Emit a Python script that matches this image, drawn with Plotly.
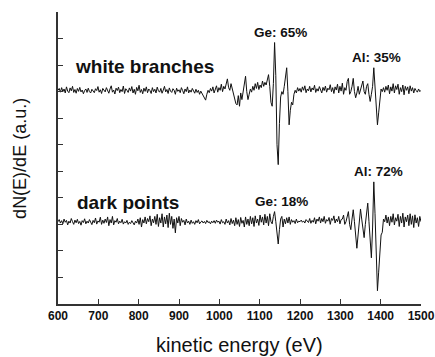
import plotly.graph_objects as go

energy_start = 600
energy_step = 3

white_branches = [
    8.05, 8.12, 7.98, 8.15, 8.00, 8.10, 7.95, 8.18, 8.02, 7.96,
    8.14, 8.03, 8.20, 7.97, 8.08, 7.94, 8.12, 8.01, 8.16, 7.99,
    8.06, 7.92, 8.04, 8.10, 7.97, 8.13, 8.00, 7.95, 8.09, 8.02,
    7.96, 8.11, 8.04, 8.19, 7.98, 8.07, 7.93, 8.12, 8.05, 7.99,
    8.15, 8.02, 7.94, 8.10, 8.22, 7.98, 8.06, 7.91, 8.13, 8.04,
    8.17, 7.96, 8.08, 8.00, 8.21, 7.93, 8.11, 8.05, 7.97, 8.14,
    8.02, 8.19, 7.95, 8.09, 7.90, 8.16, 8.03, 8.24, 7.97, 8.08,
    7.92, 8.13, 8.01, 8.18, 7.96, 8.10, 8.04, 7.93, 8.15, 8.00,
    8.09, 7.95, 8.17, 8.03, 7.98, 8.12, 7.94, 8.06, 8.20, 7.99,
    8.08, 7.93, 8.14, 8.02, 7.97, 8.11, 8.05, 7.90, 8.13, 8.01,
    8.07, 7.96, 8.15, 8.04, 7.92, 8.10, 8.00, 8.18, 7.95, 8.06,
    7.98, 8.12, 8.03, 7.94, 8.09, 7.97, 8.05, 7.90, 8.02, 7.93,
    7.85, 7.72, 7.68, 7.90, 8.05, 7.96, 8.12, 8.02, 8.18, 7.95,
    8.10, 8.22, 7.98, 8.15, 8.05, 8.28, 8.00, 8.20, 8.10, 8.35,
    8.48, 8.15, 8.05, 8.30, 8.10, 7.90, 7.70, 7.55, 7.50, 7.85,
    7.45, 7.95, 7.70, 8.05, 8.30, 8.58, 8.00, 7.70, 7.90, 8.10,
    7.98, 8.20, 8.05, 8.30, 8.12, 8.35, 8.08, 8.25, 8.15, 8.40,
    8.20, 8.35, 8.25, 8.45, 8.64, 8.20, 7.60, 7.45, 8.30, 9.85,
    8.60, 6.00, 5.25, 6.80, 7.80, 8.00, 7.90, 8.20, 8.50, 8.90,
    8.00, 6.75, 7.30, 7.60, 7.50, 7.90, 8.05, 7.95, 8.15, 8.02,
    8.12, 7.98, 8.18, 8.05, 8.22, 7.96, 8.10, 8.03, 8.20, 7.99,
    8.14, 8.06, 8.24, 7.97, 8.11, 8.02, 8.19, 8.08, 7.95, 8.16,
    8.04, 8.21, 7.98, 8.13, 8.07, 8.26, 8.00, 8.15, 7.93, 8.18,
    8.06, 8.28, 7.95, 8.20, 8.02, 8.32, 7.90, 8.15, 8.05, 8.38,
    8.50, 7.90, 8.00, 8.20, 8.50, 8.00, 7.77, 7.95, 8.20, 7.90,
    8.10, 8.30, 8.40, 8.00, 7.90, 8.20, 8.30, 7.90, 7.63, 7.90,
    8.20, 8.90, 8.00, 7.20, 6.75, 7.20, 7.80, 8.10, 8.00, 8.15,
    7.98, 8.20, 8.05, 8.25, 7.92, 8.18, 8.02, 8.30, 7.95, 8.22,
    8.08, 8.28, 7.90, 8.15, 8.00, 8.25, 7.88, 8.20, 8.05, 8.18,
    7.92, 8.22, 8.02, 8.15, 7.95, 8.12, 8.04, 7.98, 8.10, 8.00,
    8.05,
]

dark_points = [
    3.10, 3.18, 3.05, 3.14, 3.02, 3.20, 3.08, 3.15, 2.98, 3.12,
    3.05, 3.22, 3.10, 3.00, 3.16, 3.06, 3.19, 3.03, 3.11, 2.97,
    3.14, 3.07, 3.21, 3.02, 3.12, 3.05, 3.18, 3.09, 2.99, 3.15,
    3.06, 3.24, 3.01, 3.13, 3.08, 3.27, 3.00, 3.16, 3.04, 3.20,
    3.07, 3.28, 2.95, 3.18, 3.05, 3.30, 2.98, 3.14, 3.08, 3.22,
    3.02, 3.12, 3.06, 3.19, 3.01, 3.10, 3.05, 3.15, 3.00, 3.08,
    3.03, 3.14, 3.06, 2.98, 3.12, 3.05, 3.20, 3.00, 3.25, 2.90,
    3.18, 3.05, 3.28, 3.02, 3.22, 3.10, 3.32, 2.95, 3.20, 3.06,
    3.30, 3.00, 3.38, 2.92, 3.25, 3.05, 3.40, 2.90, 3.28, 3.02,
    3.35, 2.88, 3.42, 3.00, 3.30, 2.85, 3.20, 2.68, 3.25, 3.05,
    3.30, 2.95, 3.22, 3.08, 3.15, 2.98, 3.20, 3.05, 3.12, 3.00,
    3.16, 3.04, 3.10, 3.00, 3.14, 3.06, 3.18, 3.02, 3.09, 3.13,
    3.05, 3.11, 3.03, 3.15, 3.07, 3.10, 3.02, 3.12, 3.06, 3.14,
    3.04, 3.16, 3.08, 3.12, 3.01, 3.18, 3.06, 3.10, 3.00, 3.20,
    3.05, 3.14, 2.98, 3.22, 3.03, 3.16, 2.95, 3.25, 3.00, 3.18,
    2.92, 3.26, 3.04, 3.15, 2.90, 3.28, 3.00, 3.20, 2.95, 3.30,
    3.02, 3.25, 2.92, 3.32, 3.05, 3.20, 2.96, 3.35, 3.08, 3.28,
    2.98, 3.38, 3.05, 3.30, 2.95, 3.40, 3.10, 3.02, 3.30, 3.48,
    3.10, 2.60, 2.26, 2.80, 3.20, 3.30, 2.90, 3.20, 3.02, 3.25,
    3.05, 3.28, 3.00, 3.18, 3.08, 3.14, 3.03, 3.20, 3.06, 3.12,
    3.10, 3.16, 3.08, 3.13, 3.05, 3.18, 3.10, 3.07, 3.22, 3.04,
    3.15, 3.08, 3.25, 3.02, 3.20, 3.12, 3.28, 3.05, 3.22, 3.10,
    3.30, 3.04, 3.18, 3.12, 3.26, 3.00, 3.22, 3.15, 3.32, 3.05,
    3.20, 3.10, 3.30, 3.02, 3.18, 3.20, 3.35, 3.00, 3.10, 3.30,
    3.48, 3.00, 2.80, 3.20, 3.55, 3.10, 2.50, 2.10, 2.60, 3.20,
    3.58, 3.20, 2.70, 2.50, 3.00, 3.50, 3.80, 3.10, 2.20, 1.74,
    2.90, 4.60, 3.40, 1.50, 0.50, 1.20, 2.00, 2.60, 2.70, 3.20,
    3.10, 3.35, 3.05, 3.28, 2.95, 3.30, 3.08, 3.40, 2.98, 3.25,
    3.12, 3.38, 2.92, 3.30, 3.05, 3.42, 2.90, 3.28, 3.10, 3.35,
    2.95, 3.40, 3.00, 3.32, 2.88, 3.36, 3.05, 3.25, 2.92, 3.30,
    3.10,
]

energies = [energy_start + energy_step * i for i in range(len(white_branches))]

x_ticks = [600, 700, 800, 900, 1000, 1100, 1200, 1300, 1400, 1500]
y_ticks = [0, 1, 2, 3, 4, 5, 6, 7, 8, 9, 10, 11]

labels = [
    ("white branches", 636, 8.96, "left", 19),
    ("dark points", 642, 3.84, "left", 19),
    ("Ge: 65%", 1151, 10.23, "center", 13.5),
    ("Al: 35%", 1390, 9.28, "center", 13.5),
    ("Al: 72%", 1395, 5.01, "center", 13.5),
    ("Ge: 18%", 1155, 3.86, "center", 13.5),
]

FONT = "Liberation Sans, Arial, sans-serif"

fig = go.Figure()
for ys in (white_branches, dark_points):
    fig.add_trace(go.Scatter(x=energies, y=ys, mode="lines",
                             line=dict(color="#111111", width=1),
                             showlegend=False, hoverinfo="skip"))

for text, x, y, anchor, size in labels:
    fig.add_annotation(x=x, y=y, xref="x", yref="y", text=f"<b>{text}</b>",
                       showarrow=False, xanchor=anchor, yanchor="middle",
                       font=dict(family=FONT, size=size, color="#111111"))

fig.add_annotation(x=-0.105, y=0.5, xref="paper", yref="paper",
                   text="dN(E)/dE (a.u.)", textangle=-90, showarrow=False,
                   xanchor="center", yanchor="middle",
                   font=dict(family=FONT, size=18, color="#111111"))
fig.add_annotation(x=0.5, y=-(345 - 304) / 292, xref="paper", yref="paper",
                   text="kinetic energy (eV)", showarrow=False,
                   xanchor="center", yanchor="middle",
                   font=dict(family=FONT, size=20, color="#111111"))

fig.update_layout(
    width=435, height=357,
    margin=dict(l=58, r=14, t=12, b=53, autoexpand=False),
    paper_bgcolor="white", plot_bgcolor="white",
    font=dict(family=FONT, color="#111111"),
    xaxis=dict(range=[600, 1500], tickvals=x_ticks, automargin=False,
               ticktext=[f"<b>{v}</b>" for v in x_ticks],
               ticks="inside", ticklen=5, tickwidth=1.3, tickcolor="#333333",
               showline=True, linecolor="#333333", linewidth=1.5,
               showgrid=False, zeroline=False,
               tickfont=dict(family=FONT, size=12, color="#111111")),
    yaxis=dict(range=[0, 11], tickvals=y_ticks, showticklabels=False,
               automargin=False,
               ticks="inside", ticklen=5, tickwidth=1.3, tickcolor="#333333",
               showline=True, linecolor="#333333", linewidth=1.5,
               showgrid=False, zeroline=False),
)

fig.write_html("out.html")
